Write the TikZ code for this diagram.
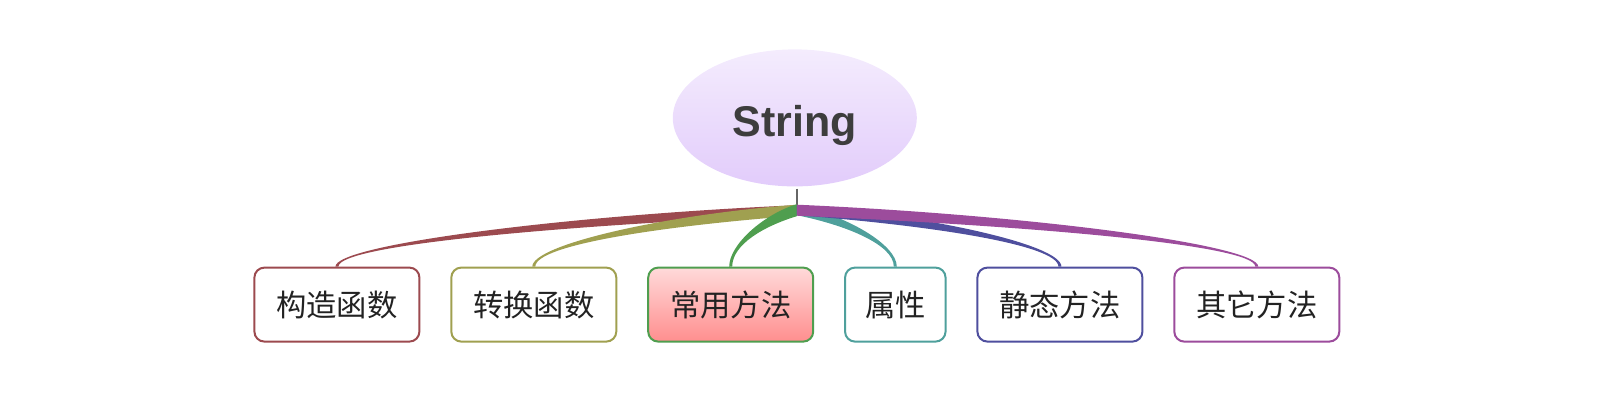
\documentclass[tikz,border=0pt]{standalone}
\usepackage{fontspec}
\setmainfont{Liberation Sans}
\newfontfamily\cjk{Noto Sans CJK SC}
\usetikzlibrary{calc,shapes.geometric}
\definecolor{cRed}{HTML}{9C4A4F}
\definecolor{cOlive}{HTML}{A0A050}
\definecolor{cGreen}{HTML}{4F9E4F}
\definecolor{cTeal}{HTML}{4FA09C}
\definecolor{cBlue}{HTML}{4F4F9E}
\definecolor{cPurple}{HTML}{9C4C9C}
\definecolor{rootTop}{HTML}{F4ECFD}
\definecolor{rootBot}{HTML}{E2CCFB}
\definecolor{pinkTop}{HTML}{FFDADA}
\definecolor{pinkBot}{HTML}{FF8E8E}
\definecolor{txt}{HTML}{222222}
\tikzset{
  topicbox/.style={draw=#1, line width=2pt, rounded corners=10pt, fill=white,
    minimum width=165pt, minimum height=74pt, inner sep=0pt,
    font=\cjk\fontsize{30.3}{34}\selectfont, text=txt},
  rootnode/.style={ellipse, minimum width=244pt, minimum height=137pt, inner sep=0pt,
    top color=rootTop, bottom color=rootBot, draw=none,
    text height=37pt, text depth=0pt,
    font=\bfseries\fontsize{43}{47}\selectfont, text=black!76},
}
% #1 node name, #2 colour, #3 side (-1 left, 1 right), #4 half width at root
\newcommand\mybranch[4]{%
  \fill[#2] ($(root)+(0,#4)$)
    .. controls ($(root)!0.5!(#1.north |- root)+(0,-10+#4)$) and ($(#1.north)+(#3*1.5,22)$)
    .. ($(#1.north)+(#3*1.5,0)$)
    -- ($(#1.north)+(-#3*1.5,0)$)
    .. controls ($(#1.north)+(-#3*1.5,22)$) and ($(root)!0.5!(#1.north |- root)+(0,-10-#4)$)
    .. ($(root)+(0,-#4)$) -- cycle;}
\begin{document}
\begin{tikzpicture}[x=1pt,y=1pt]
\useasboundingbox (0,0) rectangle (1608,404);
\node[rootnode] (topic) at (794.8,286.1) {String};
\coordinate (root) at (796.8,193.8);
\coordinate (stemtop) at (796.8,215.3);
\node[topicbox=cRed] (b1) at (336.9,99.4) {构造函数};
\node[topicbox=cOlive] (b2) at (533.8,99.4) {转换函数};
\node[topicbox=cGreen, fill=none, top color=pinkTop, bottom color=pinkBot] (b3) at (730.7,99.4) {常用方法};
\node[topicbox=cTeal, minimum width=100.5pt] (b4) at (895.3,99.4) {属性};
\node[topicbox=cBlue] (b5) at (1059.9,99.4) {静态方法};
\node[topicbox=cPurple] (b6) at (1256.8,99.4) {其它方法};
\draw[black!60, line width=2pt] (stemtop) -- (root);
\mybranch{b1}{cRed}{-1}{5}
\mybranch{b2}{cOlive}{-1}{5.5}
\mybranch{b3}{cGreen}{-1}{6}
\mybranch{b4}{cTeal}{1}{5}
\mybranch{b5}{cBlue}{1}{5}
\mybranch{b6}{cPurple}{1}{5.5}
\end{tikzpicture}
\end{document}
